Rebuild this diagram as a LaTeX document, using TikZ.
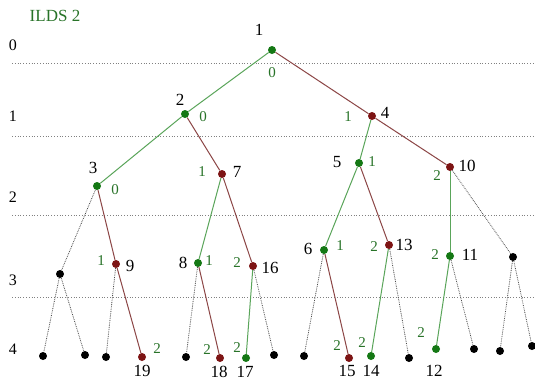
\documentclass[tikz,border=0pt]{standalone}
\usepackage{fontspec}
\setmainfont{Liberation Serif}
\definecolor{gdot}{RGB}{20,120,20}
\definecolor{rdot}{RGB}{125,20,20}
\definecolor{gedge}{RGB}{90,165,90}
\definecolor{redge}{RGB}{140,70,70}
\definecolor{glab}{RGB}{40,115,40}
\tikzset{
  dotg/.style={circle,fill=gdot,inner sep=0pt,minimum size=8pt},
  dotr/.style={circle,fill=rdot,inner sep=0pt,minimum size=8pt},
  dotk/.style={circle,fill=black,inner sep=0pt,minimum size=8pt},
  eg/.style={draw=gedge,line width=1pt},
  er/.style={draw=redge,line width=1pt},
  ek/.style={draw=gray!60!black,line width=0.8pt,densely dotted},
  num/.style={font=\fontsize{17}{17}\selectfont,inner sep=0pt},
  gnum/.style={font=\fontsize{15}{15}\selectfont,text=glab,inner sep=0pt},
  lvl/.style={font=\fontsize{16}{16}\selectfont,inner sep=0pt},
  hline/.style={draw=gray,line width=0.8pt,dotted}
}
\begin{document}
\begin{tikzpicture}[x=1pt,y=-1pt]
\useasboundingbox (0,0) rectangle (535,381);
\fill[white] (0,0) rectangle (535,381);
% title
\node[font=\fontsize{17}{17}\selectfont,text=glab,inner sep=0pt] (title) at (55,16) {ILDS 2};
% level lines
\coordinate (l0a) at (12,63); \coordinate (l0b) at (535,63);
\coordinate (l1a) at (12,136); \coordinate (l1b) at (535,136);
\coordinate (l2a) at (12,215); \coordinate (l2b) at (535,215);
\coordinate (l3a) at (12,297); \coordinate (l3b) at (535,297);
\draw[hline] (l0a) -- (l0b);
\draw[hline] (l1a) -- (l1b);
\draw[hline] (l2a) -- (l2b);
\draw[hline] (l3a) -- (l3b);
\node[lvl] (v0) at (13,45) {0};
\node[lvl] (v1) at (13,116) {1};
\node[lvl] (v2) at (13,197) {2};
\node[lvl] (v3) at (13,280) {3};
\node[lvl] (v4) at (13,349) {4};
% nodes
\node[dotg] (n1) at (272,50) {};
\node[dotg] (n2) at (185,114) {};
\node[dotr] (n4) at (372,116) {};
\node[dotg] (n3) at (97,186) {};
\node[dotr] (n7) at (222,174) {};
\node[dotg] (n5) at (359,163) {};
\node[dotr] (n10) at (450,167) {};
\node[dotk] (k1) at (60,274) {};
\node[dotr] (n9) at (116,264) {};
\node[dotg] (n8) at (198,263) {};
\node[dotr] (n16) at (253,266) {};
\node[dotg] (n6) at (324,250) {};
\node[dotr] (n13) at (389,245) {};
\node[dotg] (n11) at (450,256) {};
\node[dotk] (k2) at (513,257) {};
\node[dotk] (a1) at (43,356) {};
\node[dotk] (a2) at (85,355) {};
\node[dotk] (a3) at (106,357) {};
\node[dotr] (n19) at (142,357) {};
\node[dotk] (a4) at (186,357) {};
\node[dotr] (n18) at (220,358) {};
\node[dotg] (n17) at (246,358) {};
\node[dotk] (a5) at (274,355) {};
\node[dotk] (a6) at (304,356) {};
\node[dotr] (n15) at (349,358) {};
\node[dotg] (n14) at (371,356) {};
\node[dotk] (a7) at (409,358) {};
\node[dotg] (n12) at (436,349) {};
\node[dotk] (a8) at (474,349) {};
\node[dotk] (a9) at (500,351) {};
\node[dotk] (a10) at (532,346) {};
% edges
\draw[eg] (n1) -- (n2);
\draw[eg] (n2) -- (n3);
\draw[er] (n1) -- (n4);
\draw[er] (n2) -- (n7);
\draw[eg] (n4) -- (n5);
\draw[er] (n4) -- (n10);
\draw[ek] (n3) -- (k1);
\draw[er] (n3) -- (n9);
\draw[eg] (n7) -- (n8);
\draw[er] (n7) -- (n16);
\draw[eg] (n5) -- (n6);
\draw[er] (n5) -- (n13);
\draw[eg] (n10) -- (n11);
\draw[ek] (n10) -- (k2);
\draw[ek] (k1) -- (a1);
\draw[ek] (k1) -- (a2);
\draw[ek] (n9) -- (a3);
\draw[er] (n9) -- (n19);
\draw[ek] (n8) -- (a4);
\draw[er] (n8) -- (n18);
\draw[eg] (n16) -- (n17);
\draw[ek] (n16) -- (a5);
\draw[ek] (n6) -- (a6);
\draw[er] (n6) -- (n15);
\draw[eg] (n13) -- (n14);
\draw[ek] (n13) -- (a7);
\draw[eg] (n11) -- (n12);
\draw[ek] (n11) -- (a8);
\draw[ek] (k2) -- (a9);
\draw[ek] (k2) -- (a10);
% black labels
\node[num] (t1) at (259,30) {1};
\node[num] (t2) at (180,100) {2};
\node[num] (t4) at (385,113) {4};
\node[num] (t3) at (93,168) {3};
\node[num] (t7) at (237,172) {7};
\node[num] (t5) at (337,162) {5};
\node[num] (t10) at (467,166) {10};
\node[num] (t9) at (130,266) {9};
\node[num] (t8) at (183,263) {8};
\node[num] (t16) at (270,268) {16};
\node[num] (t6) at (308,249) {6};
\node[num] (t13) at (404,245) {13};
\node[num] (t11) at (470,255) {11};
\node[num] (t19) at (142,371) {19};
\node[num] (t18) at (219,372) {18};
\node[num] (t17) at (245,372) {17};
\node[num] (t15) at (347,371) {15};
\node[num] (t14) at (371,371) {14};
\node[num] (t12) at (434,371) {12};
% green labels
\node[gnum] (g1) at (272,73) {0};
\node[gnum] (g2) at (203,117) {0};
\node[gnum] (g4) at (348,117) {1};
\node[gnum] (g3) at (115,190) {0};
\node[gnum] (g7) at (202,172) {1};
\node[gnum] (g5) at (372,162) {1};
\node[gnum] (g10) at (437,176) {2};
\node[gnum] (g9) at (101,261) {1};
\node[gnum] (g8) at (209,261) {1};
\node[gnum] (g16) at (237,263) {2};
\node[gnum] (g6) at (340,246) {1};
\node[gnum] (g13) at (374,247) {2};
\node[gnum] (g11) at (435,255) {2};
\node[gnum] (g19) at (157,349) {2};
\node[gnum] (g18) at (207,350) {2};
\node[gnum] (g17) at (237,348) {2};
\node[gnum] (g15) at (337,346) {2};
\node[gnum] (g14) at (362,343) {2};
\node[gnum] (g12) at (421,333) {2};
\end{tikzpicture}
\end{document}
